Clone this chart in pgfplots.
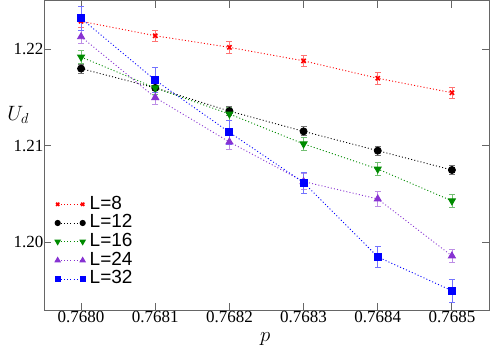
\documentclass[border=0pt]{standalone}
\usepackage{pgfplots}
\pgfplotsset{compat=1.18}
\usepackage{fontspec}
\setmainfont{Liberation Serif}
\newfontfamily\legfont{Liberation Sans}

\definecolor{cred}{RGB}{255,0,0}
\definecolor{cgreen}{RGB}{0,139,0}
\definecolor{cviolet}{RGB}{135,50,210}
\definecolor{cblue}{RGB}{0,0,255}

% x: p, y: U_d, ey: error
\pgfplotstableread{
x y ey
0.7680 1.2229 0.0006
0.7681 1.2214 0.0006
0.7682 1.2202 0.0006
0.7683 1.2188 0.0006
0.7684 1.2170 0.0006
0.7685 1.2155 0.0006
}\Leight
\pgfplotstableread{
x y ey
0.7680 1.2180 0.00047
0.7681 1.2160 0.00047
0.7682 1.2136 0.00045
0.7683 1.2115 0.00047
0.7684 1.2095 0.00047
0.7685 1.2075 0.00047
}\Ltwelve
\pgfplotstableread{
x y ey
0.7680 1.2192 0.00065
0.7681 1.2160 0.00065
0.7682 1.2133 0.00065
0.7683 1.2102 0.00065
0.7684 1.2076 0.00065
0.7685 1.2043 0.00065
}\Lsixteen
\pgfplotstableread{
x y ey
0.7680 1.2213 0.00065
0.7681 1.2150 0.0007
0.7682 1.2104 0.0008
0.7683 1.2063 0.0008
0.7684 1.2045 0.0008
0.7685 1.1986 0.00065
}\Ltwentyfour
\pgfplotstableread{
x y ey
0.7680 1.2232 0.0012
0.7681 1.2168 0.0013
0.7682 1.2114 0.0012
0.7683 1.2062 0.0011
0.7684 1.1985 0.0011
0.7685 1.1950 0.0012
}\Lthirtytwo

\begin{document}
\begin{tikzpicture}
\begin{axis}[
  scale only axis, width=445pt, height=309pt,
  xmin=0.76795, xmax=0.76855, ymin=1.193, ymax=1.225,
  xtick={0.7680,0.7681,0.7682,0.7683,0.7684,0.7685},
  xticklabels={0.7680,0.7681,0.7682,0.7683,0.7684,0.7685},
  ytick={1.20,1.21,1.22}, yticklabels={1.20,1.21,1.22},
  tick align=inside, major tick length=7pt,
  axis line style={black!60, line width=1pt},
  tick style={black!60, line width=1pt},
  tick label style={font=\fontsize{17}{17}\selectfont},
  yticklabel style={xshift=3pt},
  xticklabel style={yshift=2pt},
  /pgf/number format/assume math mode=true,
  xlabel={$p$}, ylabel={$U_d$},
  label style={font=\fontsize{21}{21}\selectfont},
  xlabel style={at={(axis description cs:0.497,-0.095)}, anchor=center},
  ylabel style={rotate=-90, at={(axis description cs:-0.058,0.63)}, anchor=center},
  legend style={draw=none, fill=none, at={(axis description cs:0.018,0.373)}, anchor=north west,
    font=\fontsize{19}{19}\legfont, row sep=0pt, inner sep=0pt,
    nodes={inner sep=0.6pt, text height=13.5pt, text depth=4pt}},
  legend cell align=left,
  legend image code/.code={\path (0pt,0pt) (36pt,0pt);
    \draw[every mark/.append style={scale=0.75}] plot coordinates {(5pt,0pt)(30pt,0pt)};},
  every axis plot/.append style={line width=0.9pt, dash pattern=on 1pt off 2.2pt,
    mark options={solid}},
  error bars/y dir=both, error bars/y explicit,
]
\addplot[cred, mark=x, mark size=3pt, mark options={solid, line width=1.6pt},
  error bars/error bar style={cred!55, solid, line width=0.8pt},
  error bars/error mark options={cred!55, solid, mark size=3pt, line width=0.8pt, rotate=90}]
  table[x=x, y=y, y error=ey] {\Leight};
\addlegendentry{L=8}
\addplot[black, mark=*, mark size=3.5pt,
  error bars/error bar style={black!55, solid, line width=0.8pt},
  error bars/error mark options={black!55, solid, mark size=3pt, line width=0.8pt, rotate=90}]
  table[x=x, y=y, y error=ey] {\Ltwelve};
\addlegendentry{L=12}
\addplot[cgreen, mark=triangle*, mark size=4pt, mark options={solid, rotate=180},
  error bars/error bar style={cgreen!55, solid, line width=0.8pt},
  error bars/error mark options={cgreen!55, solid, mark size=3pt, line width=0.8pt, rotate=90}]
  table[x=x, y=y, y error=ey] {\Lsixteen};
\addlegendentry{L=16}
\addplot[cviolet, mark=triangle*, mark size=4pt,
  error bars/error bar style={cviolet!55, solid, line width=0.8pt},
  error bars/error mark options={cviolet!55, solid, mark size=3pt, line width=0.8pt, rotate=90}]
  table[x=x, y=y, y error=ey] {\Ltwentyfour};
\addlegendentry{L=24}
\addplot[cblue, mark=square*, mark size=3.5pt,
  error bars/error bar style={cblue!55, solid, line width=0.8pt},
  error bars/error mark options={cblue!55, solid, mark size=3pt, line width=0.8pt, rotate=90}]
  table[x=x, y=y, y error=ey] {\Lthirtytwo};
\addlegendentry{L=32}
\end{axis}
\path ([xshift=-44pt,yshift=-40pt]current axis.south west) rectangle ([xshift=2pt,yshift=1pt]current axis.north east);
\end{tikzpicture}
\end{document}
